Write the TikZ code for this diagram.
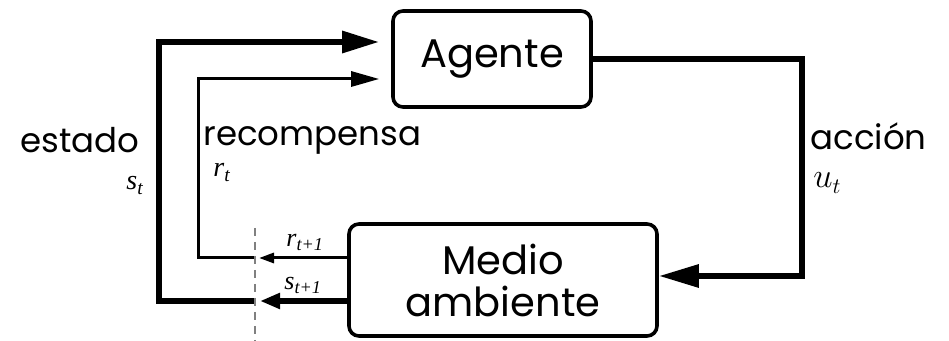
\documentclass[tikz,border=0pt]{standalone}
\usepackage{fontspec}
\setmainfont{Poppins}
\newfontfamily\tms{Liberation Serif}
\usetikzlibrary{arrows.meta}

\begin{document}
\begin{tikzpicture}[x=0.5pt,y=-0.5pt,line join=miter,
  bloque/.style={draw,rounded corners=5pt,line width=1.8pt,align=center,
                 font=\fontsize{20}{23}\selectfont},
  grueso/.style={line width=3pt},
  fino/.style={line width=1.5pt},
  etiq/.style={font=\fontsize{17}{20}\selectfont,inner sep=0pt,anchor=base west},
  var/.style={font=\fontsize{14}{16}\selectfont\tms\itshape,inner sep=0pt,anchor=base west},
  varchica/.style={font=\fontsize{13}{15}\selectfont\tms\itshape,inner sep=0pt,anchor=base west}]
  \useasboundingbox (0,0) rectangle (949,341);

  \node[bloque,minimum width=99pt,minimum height=48pt]  (agente) at (492,59)  {Agente};
  \node[bloque,minimum width=154pt,minimum height=56pt] (medio)  at (503,280) {Medio\\[-2pt]ambiente};

  \coordinate (acc)  at (802,170);
  \coordinate (sfin) at (260,301);
  \coordinate (rfin) at (259,258);
  \coordinate (sini) at (255,301);
  \coordinate (rini) at (255,258);
  \coordinate (sesq) at (159,42);
  \coordinate (resq) at (198,79);
  \coordinate (dtop) at (255,228);
  \coordinate (dbot) at (255,341);

  % accion
  \draw[grueso,-{Triangle[length=20pt,width=11pt]}]
        (agente.east) -| (acc) |- ([yshift=2pt]medio.east);
  % salidas del medio
  \draw[grueso,-{Triangle[length=10pt,width=7.5pt]}] (medio.west |- sfin) -- (sfin);
  \draw[fino,-{Triangle[length=7.5pt,width=5pt]}]    (medio.west |- rfin) -- (rfin);
  % lazos hacia el agente
  \draw[grueso,-{Triangle[length=18.5pt,width=10.5pt]},shorten >=6pt]
        (sini) -| (sesq) -- (agente.west |- sesq);
  \draw[fino,-{Triangle[length=14pt,width=7.5pt]},shorten >=6pt]
        (rini) -| (resq) -- (agente.west |- resq);
  % retardo
  \draw[gray,line width=1pt,dash pattern=on 4pt off 3pt] (dtop) -- (dbot);

  \node[etiq] (estado) at (20,153)  {estado};
  \node[var]  (st)     at (126,190) {s\textsubscript{t}};
  \node[etiq] (recomp) at (203,146) {recompensa};
  \node[var]  (rt)     at (213,177) {r\textsubscript{t}};
  \node[etiq] (accion) at (810,150) {acción};
  \node[inner sep=0pt,anchor=base west,font=\fontsize{16}{18}\selectfont] (ut) at (813,188) {$u_t$};
  \node[varchica] (rt1) at (286,247) {r\textsubscript{t+1}};
  \node[varchica] (st1) at (284,290) {s\textsubscript{t+1}};
\end{tikzpicture}
\end{document}
